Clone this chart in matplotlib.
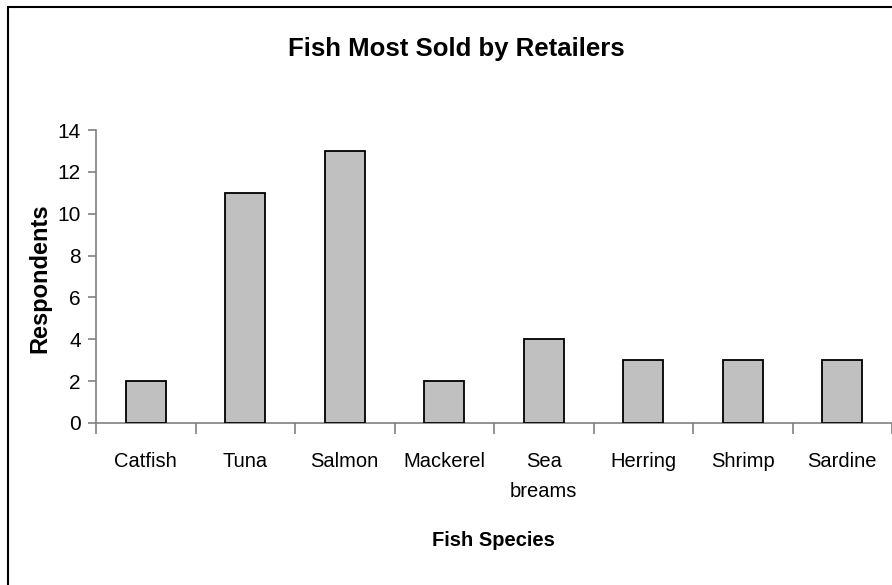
import matplotlib
matplotlib.use("Agg")
import matplotlib.pyplot as plt
from matplotlib.patches import Rectangle
from matplotlib.ticker import FixedLocator

categories = ["Catfish", "Tuna", "Salmon", "Mackerel", "Sea\nbreams", "Herring", "Shrimp", "Sardine"]
respondents = [2, 11, 13, 2, 4, 3, 3, 3]
yticks = [0, 2, 4, 6, 8, 10, 12, 14]

plt.rcParams['font.family'] = ["Liberation Sans", "DejaVu Sans"]

W, H = 892, 585
fig = plt.figure(figsize=(W / 100, H / 100), dpi=100)
fig.patch.set_facecolor("white")

# outer chart border (top and left visible, right/bottom cropped)
fig.add_artist(Rectangle((8 / W, -0.1), 1.2, (H - 7) / H + 0.1, transform=fig.transFigure,
                         fill=False, edgecolor="black", linewidth=1.5))

ax = fig.add_axes([96 / W, (H - 423) / H, (892 - 96) / W, 293 / H])
x = list(range(len(categories)))
ax.bar(x, respondents, width=0.4, color="#C0C0C0", edgecolor="black", linewidth=1.3, zorder=3)

ax.set_xlim(-0.5, len(categories) - 0.5)
ax.set_ylim(0, 14)
ax.set_yticks(yticks)
ax.set_yticklabels([str(v) for v in yticks], fontsize=15)
ax.set_xticks(x)
ax.set_xticklabels(categories, fontsize=14.5, linespacing=1.75, va="top")
ax.xaxis.set_minor_locator(FixedLocator([i - 0.5 for i in range(len(categories) + 1)]))
ax.tick_params(axis="x", which="major", length=0, pad=21)
ax.tick_params(axis="x", which="minor", length=8, width=1.2, color="#808080", direction="out")
ax.tick_params(axis="y", length=6, width=1.2, color="#808080", direction="out", pad=5)

for s in ["top", "right"]:
    ax.spines[s].set_visible(False)
for s in ["left", "bottom"]:
    ax.spines[s].set_color("#808080")
    ax.spines[s].set_linewidth(1.2)

fig.text(456 / W, 1 - 49 / H, "Fish Most Sold by Retailers", ha="center", va="center",
         fontsize=18.5, fontweight="bold")
fig.text(493 / W, 1 - 541 / H, "Fish Species", ha="center", va="center",
         fontsize=14.5, fontweight="bold")
fig.text(40 / W, 1 - 278 / H, "Respondents", ha="center", va="center", rotation=90,
         fontsize=17, fontweight="bold")

fig.savefig("out.png", dpi=100, facecolor="white")
